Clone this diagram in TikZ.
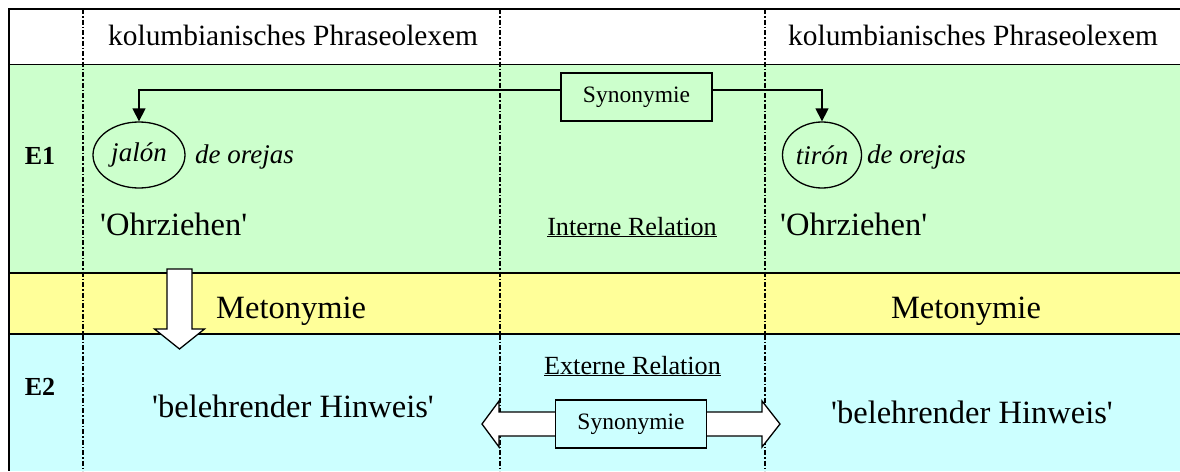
\documentclass[tikz,border=0pt]{standalone}
\usepackage{fontspec}
\setmainfont{Liberation Serif}
\usetikzlibrary{shapes.geometric,arrows.meta,calc}

\definecolor{rowgreen}{HTML}{CCFFCC}
\definecolor{rowyellow}{HTML}{FFFF99}
\definecolor{rowcyan}{HTML}{CCFFFF}

\newcommand{\fsz}[1]{\fontsize{#1}{#1}\selectfont}
\newcommand{\sq}{\textquotesingle}

\begin{document}
\begin{tikzpicture}[x=1pt,y=-1pt,
  rule/.style={line width=1.3pt},
  colsep/.style={line width=1.2pt, dash pattern=on 5pt off 2pt on 1.5pt off 2pt},
  txt/.style={inner sep=0pt, font=\fsz{32.5}},
  head/.style={inner sep=0pt, font=\fsz{29.4}},
  small/.style={inner sep=0pt, font=\fsz{26.2}},
  lvl/.style={inner sep=0pt, font=\fsz{26}\bfseries},
  ital/.style={inner sep=0pt, font=\fsz{27}\itshape},
  core/.style={ellipse, draw, line width=1.3pt, inner sep=0pt, font=\fsz{27}\itshape},
  relbox/.style={draw, line width=1.3pt, inner sep=0pt, minimum width=151pt, minimum height=48pt, font=\fsz{23.5}},
  conn/.style={line width=1.3pt, -{Triangle[length=13pt,width=13pt]}},
  blockarrow/.style={draw, line width=1.3pt, fill=white, line join=miter}
]
\useasboundingbox (0,0) rectangle (1180,471);

% row backgrounds
\fill[white] (0,0) rectangle (1180,471);
\fill[rowgreen] (9,64.5) rectangle (1180,273);
\fill[rowyellow] (9,273) rectangle (1180,334);
\fill[rowcyan] (9,334) rectangle (1180,471);

% column separators
\draw[colsep] (83,9) -- (83,471);
\draw[colsep] (500,9) -- (500,471);
\draw[colsep] (765,9) -- (765,471);

% table rules
\draw[rule] (1180,9) -- (9,9) -- (9,471);
\draw[rule] (9,64.5) -- (1180,64.5);
\draw[rule] (9,273) -- (1180,273);
\draw[rule] (9,334) -- (1180,334);

% header row
\node[head, anchor=base west] (hdrL) at (108,45) {kolumbianisches Phraseolexem};
\node[head, anchor=base west] (hdrR) at (788,45) {kolumbianisches Phraseolexem};

% level labels
\node[lvl] (e1) at (40,156) {E1};
\node[lvl] (e2) at (40,387) {E2};

% E1: the two phraseolexemes
\node[core, minimum width=92pt, minimum height=66pt] (jal) at (139,155) {jal\'on};
\node[ital, anchor=base west] (ore1) at (195,163) {de orejas};
\node[core, minimum width=79pt, minimum height=66pt] (tir) at (822,155) {tir\'on};
\node[ital, anchor=base west] (ore2) at (867,163) {de orejas};

\node[txt, anchor=base west] (oh1) at (100,235) {\sq Ohrziehen\sq};
\node[txt, anchor=base west] (oh2) at (780,235) {\sq Ohrziehen\sq};
\node[small, anchor=base] (intrel) at (632,235) {\underline{Interne Relation}};

% internal synonymy
\node[relbox, fill=rowgreen] (syn1) at (636.5,97) {Synonymie};
\coordinate (s1l) at ($(syn1.north west)!0.36!(syn1.south west)$);
\coordinate (s1r) at ($(syn1.north east)!0.36!(syn1.south east)$);
\draw[conn] (s1l) -| (jal.north);
\draw[conn] (s1r) -| (tir.north);

% metonymy row
\node[txt, anchor=base west] (met1) at (216,318) {Metonymie};
\node[txt, anchor=base] (met2) at (966,318) {Metonymie};
\coordinate (mettop) at (179.5,269);
\draw[blockarrow] ($(mettop)+(-12.5,0)$) -- ($(mettop)+(12.5,0)$) -- ($(mettop)+(12.5,60)$)
  -- ($(mettop)+(25,60)$) -- ($(mettop)+(0,80)$) -- ($(mettop)+(-25,60)$)
  -- ($(mettop)+(-12.5,60)$) -- cycle;

% E2: figurative meaning
\node[txt, anchor=base] (bel1) at (293,417) {\sq belehrender Hinweis\sq};
\node[txt, anchor=base] (bel2) at (972,423) {\sq belehrender Hinweis\sq};
\node[small, anchor=base] (extrel) at (632.5,374) {\underline{Externe Relation}};

% external synonymy: double block arrow around the box
\coordinate (s2) at (631,424);
\draw[blockarrow] ($(s2)+(-75,-12)$) -- ++(-57,0) -- ++(0,-11) -- ++(-17,23)
  -- ++(17,23) -- ++(0,-11) -- ++(57,0) -- cycle;
\draw[blockarrow] ($(s2)+(75,-12)$) -- ++(56,0) -- ++(0,-11) -- ++(18,23)
  -- ++(-18,23) -- ++(0,-11) -- ++(-56,0) -- cycle;
\node[relbox, fill=rowcyan] (syn2) at (s2) {Synonymie};
\end{tikzpicture}
\end{document}
